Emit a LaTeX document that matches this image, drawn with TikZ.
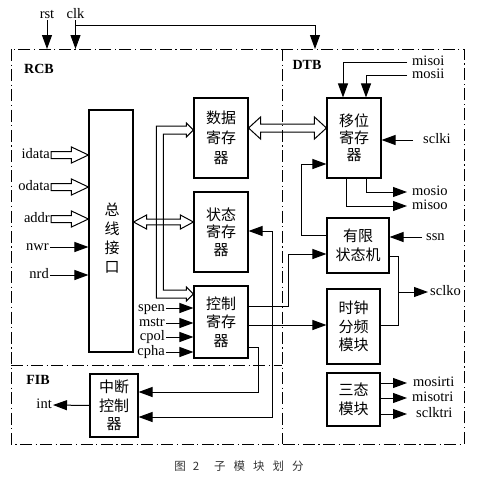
\documentclass[tikz,border=0pt]{standalone}
\usepackage{fontspec}
\setmainfont{Liberation Serif}
\newfontfamily\cjk{Noto Sans CJK SC}
\usetikzlibrary{arrows.meta,calc}

\newcommand{\hollowR}[2]{%
 \draw[hollow] ($(#1)+(0,-3.5)$) -- ($(#2)+(-17,-3.5)$) -- ($(#2)+(-17,-8)$) -- (#2) -- ($(#2)+(-17,8)$) -- ($(#2)+(-17,3.5)$) -- ($(#1)+(0,3.5)$) -- cycle;}
\newcommand{\hollowLR}[5]{%
 \draw[hollow] (#1) -- ($(#1)+(#3,-#4)$) -- ($(#1)+(#3,-#5)$) -- ($(#2)+(-#3,-#5)$) -- ($(#2)+(-#3,-#4)$) -- (#2) -- ($(#2)+(-#3,#4)$) -- ($(#2)+(-#3,#5)$) -- ($(#1)+(#3,#5)$) -- ($(#1)+(#3,#4)$) -- cycle;}

\begin{document}
\begin{tikzpicture}[x=1pt,y=-1pt,
 box/.style={draw, line width=1.1pt, inner sep=0pt, align=center, font=\cjk\fontsize{15}{18.5}\selectfont},
 cjktxt/.style={inner sep=0pt, align=center, font=\cjk\fontsize{15}{19}\selectfont},
 lbl/.style={inner sep=1pt, text height=6.5pt, text depth=0pt, font=\fontsize{14.5}{16}\selectfont},
 rlbl/.style={lbl, anchor=west, inner xsep=5pt},
 ttl/.style={inner sep=0pt, font=\bfseries\fontsize{14}{16}\selectfont},
 con/.style={line width=1pt},
 arr/.style={con, -{Triangle[length=14pt,width=10pt]}},
 darr/.style={con, {Triangle[length=14pt,width=10pt]}-{Triangle[length=14pt,width=10pt]}},
 frame/.style={line width=0.9pt, dash pattern=on 12pt off 3.5pt on 1.2pt off 3.5pt},
 hollow/.style={line width=1pt, line join=miter},
]
\useasboundingbox (0,0) rectangle (477,488);

% frames
\draw[frame] (11,49) rectangle (464,444);
\draw[frame] (282,49) -- (282,444);
\draw[frame] (11,365) -- (282,365);

\node[ttl] (rcb) at (39,69) {RCB};
\node[ttl] (dtb) at (307,65) {DTB};
\node[ttl] (fib) at (38,380) {FIB};

% boxes
\node[box, minimum width=44pt, minimum height=242pt] (bus) at (111,231) {};
\node[cjktxt] (bustxt) at (112,238) {总\\线\\接\\口};
\node[box, minimum width=54pt, minimum height=80pt, font=\cjk\fontsize{15}{20}\selectfont] (data) at (221,138) {数据\\寄存\\器};
\node[box, minimum width=54pt, minimum height=80pt, font=\cjk\fontsize{15}{17.5}\selectfont] (status) at (221,232) {状态\\寄存\\器};
\node[box, minimum width=54pt, minimum height=72pt] (ctrl) at (221,322) {控制\\寄存\\器};
\node[box, minimum width=54pt, minimum height=80pt, font=\cjk\fontsize{15}{17}\selectfont] (shift) at (354,138) {移位\\寄存\\器};
\node[box, minimum width=62pt, minimum height=55pt] (fsm) at (358,245.5) {有限\\状态机};
\node[box, minimum width=53pt, minimum height=75pt] (clkdiv) at (353.5,326.5) {时钟\\分频\\模块};
\node[box, minimum width=53pt, minimum height=53pt] (tri) at (353.5,399.5) {三态\\模块};
\node[box, minimum width=48pt, minimum height=63pt] (intc) at (114,405.5) {中断\\控制\\器};

% rst / clk
\node[lbl, anchor=south, text height=9.5pt] (rst) at (47,20) {rst};
\node[lbl, anchor=south, text height=9.5pt] (clk) at (75.5,20) {clk};
\coordinate (dtbin) at (315,49);
\draw[arr] (rst.south) -- (rst.south |- dtbin);
\draw[arr] (clk.south) -- (clk.south |- dtbin);
\coordinate (clkj) at ($(clk.south)+(0,5)$);
\draw[arr] (clkj) -| (dtbin);

% bus interface inputs
\node[lbl, anchor=east] (idata) at (51,155) {idata};
\node[lbl, anchor=east] (odata) at (51,187) {odata};
\node[lbl, anchor=east] (addr) at (51,219) {addr};
\node[lbl, anchor=east] (nwr) at (50,247) {nwr};
\node[lbl, anchor=east] (nrd) at (50,275) {nrd};
\coordinate (iT) at (bus.west |- idata);
\coordinate (oT) at (bus.west |- odata);
\coordinate (aT) at (bus.west |- addr);
\hollowR{idata.east}{iT}
\hollowR{odata.east}{oT}
\hollowR{addr.east}{aT}
\draw[arr] (nwr.east) -- (bus.west |- nwr);
\draw[arr] (nrd.east) -- (bus.west |- nrd);

% internal bus to data / control registers
\coordinate (dA) at ($(data.west)+(0,-8)$);
\coordinate (cA) at ($(ctrl.west)+(0,-28)$);
\draw[hollow] (dA) -- ++(-7,-7) -- ++(0,3) -- ++(-30,0) |- ($(cA)+(-7,4)$) -- ++(0,3) -- (cA)
  -- ++(-7,-7) -- ++(0,3) -- ++(-23,0) |- ($(dA)+(-7,4)$) -- ++(0,3) -- cycle;

% bus <-> status register
\coordinate (sR) at ($(status.west)+(0,-10)$);
\coordinate (sL) at (bus.east |- sR);
\hollowLR{sL}{sR}{13}{7}{2.8}

% data <-> shift register
\coordinate (dR) at ($(data.east)+(0,-10)$);
\coordinate (dS) at (shift.west |- dR);
\hollowLR{dR}{dS}{12}{11}{4}

% control register inputs
\node[lbl, anchor=east] (spen) at (166,308) {spen};
\node[lbl, anchor=east] (mstr) at (166,323) {mstr};
\node[lbl, anchor=east] (cpol) at (166,337) {cpol};
\node[lbl, anchor=east] (cpha) at (166,352) {cpha};
\foreach \n in {spen,mstr,cpol,cpha} \draw[arr] (\n.east) -- (ctrl.west |- \n);

% shift register I/O
\node[rlbl] (misoi) at (407,62) {misoi};
\node[rlbl] (mosii) at (407,75) {mosii};
\coordinate (sh1) at ($(shift.north)+(-11,0)$);
\coordinate (sh2) at ($(shift.north)+(12,0)$);
\draw[arr] (misoi.west) -| (sh1);
\draw[arr] (mosii.west) -| (sh2);
\node[rlbl, inner xsep=10pt] (sclki) at (413,140) {sclki};
\draw[arr] (sclki.west) -- (shift.east |- sclki);
\node[rlbl] (mosio) at (407,192) {mosio};
\node[rlbl] (misoo) at (407,206) {misoo};
\coordinate (so1) at ($(shift.south)+(12,0)$);
\coordinate (so2) at ($(shift.south)+(-8,0)$);
\draw[arr] (so1) |- (mosio.west);
\draw[arr] (so2) |- (misoo.west);

% FSM
\draw[arr] ($(fsm.west)+(0,-10.5)$) -- ++(-25,0) |- ($(shift.west)+(0,26)$);
\node[rlbl, inner xsep=4pt] (ssn) at (422,237) {ssn};
\draw[arr] (ssn.west) -- (fsm.east |- ssn);
\node[rlbl, inner xsep=2pt] (sclko) at (428,292) {sclko};
\coordinate (sclkj) at (398,292);
\coordinate (fo) at ($(fsm.east)+(0,10.5)$);
\coordinate (co) at ($(clkdiv.east)+(0,-1.5)$);
\draw[con] (fo) -- (fo -| sclkj) |- (co);
\draw[arr] (sclkj) -- (sclko.west);

% control register outputs
\draw[arr] ($(ctrl.east)+(0,-16)$) -- ++(40,0) |- ($(fsm.west)+(0,8.5)$);
\draw[arr] ($(ctrl.east)+(0,3)$) -- (clkdiv.west |- 0,325);
\draw[arr] ($(ctrl.east)+(0,25)$) -- ++(10,0) |- ($(intc.east)+(0,-13.5)$);

% status <-> interrupt controller
\coordinate (sx) at (272,231);
\draw[darr] (status.east |- sx) -- (sx) |- ($(intc.east)+(0,11.5)$);

% interrupt output
\node[lbl, anchor=east] (int) at (53,405) {int};
\draw[arr] (intc.west) -- (int.east);

% tristate outputs
\node[rlbl, inner xsep=6pt] (mosirti) at (407,383) {mosirti};
\node[rlbl, inner xsep=5pt] (misotri) at (407,398) {misotri};
\node[rlbl, inner xsep=9pt] (sclktri) at (407,414) {sclktri};
\foreach \n in {mosirti,misotri,sclktri} \draw[arr] (tri.east |- \n) -- (\n.west);

% caption
\node[inner sep=0pt, text=black!80, font=\cjk\fontsize{11.5}{13}\selectfont] (cap) at (239,466)
  {图\hspace{7pt}2\hspace{15pt}子\hspace{8pt}模\hspace{8pt}块\hspace{8pt}划\hspace{8pt}分};
\end{tikzpicture}
\end{document}
